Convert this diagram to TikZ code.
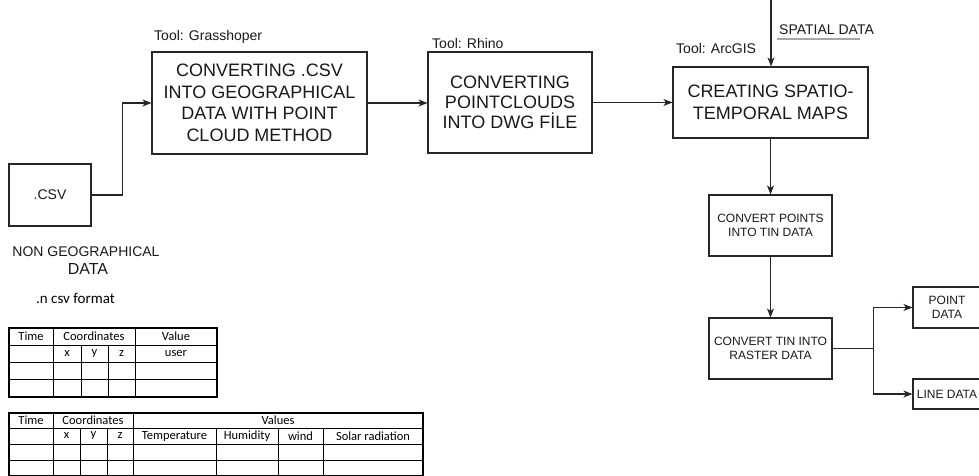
\documentclass[tikz,border=0pt]{standalone}
\usepackage{fontspec}
\setmainfont{Liberation Sans}
\newfontfamily\calfont{Carlito}
\usetikzlibrary{arrows.meta}
\begin{document}
\begin{tikzpicture}[x=1pt,y=-1pt,
  box/.style={draw=black!85,line width=1.1pt,inner sep=0pt,align=center,text=black!90},
  big/.style={box,font=\fontsize{18}{21.6}\selectfont},
  small/.style={box,font=\fontsize{12}{14}\selectfont},
  lbl/.style={inner sep=0pt,anchor=west,text=black!90,font=\fontsize{14}{16}\selectfont},
  arr/.style={draw=black!85,line width=1.1pt,-{Stealth[length=9pt,width=7pt,inset=2.5pt]}},
  tab/.style={draw=black,line width=0.9pt},
  tabout/.style={draw=black,line width=1.3pt},
  tt/.style={inner sep=0pt,font=\calfont\fontsize{12.5}{14}\selectfont}
]
\clip (0,0) rectangle (979,476);
\fill[white] (0,0) rectangle (979,476);

% boxes
\node[box,minimum width=82pt,minimum height=62pt,font=\fontsize{14}{16}\selectfont] (csv) at (50,195) {.CSV};
\node[big,minimum width=215pt,minimum height=102pt] (gh) at (259.5,103) {CONVERTING .CSV\\INTO GEOGRAPHICAL\\DATA WITH POINT\\CLOUD METHOD};
\node[big,minimum width=164pt,minimum height=101pt,font=\fontsize{18}{20}\selectfont] (rh) at (510,102.5) {CONVERTING\\POINTCLOUDS\\INTO DWG FİLE};
\node[big,minimum width=195pt,minimum height=71pt,font=\fontsize{18}{22}\selectfont] (arc) at (770.5,102.5) {CREATING SPATIO-\\TEMPORAL MAPS};
\node[small,minimum width=123pt,minimum height=61pt] (tin) at (770.5,225.5) {CONVERT POINTS\\INTO TIN DATA};
\node[small,minimum width=123pt,minimum height=61pt] (ras) at (770.5,348.5) {CONVERT TIN INTO\\RASTER DATA};
\node[small,minimum width=68pt,minimum height=41pt] (pt) at (947,307.5) {POINT\\DATA};
\node[small,minimum width=68pt,minimum height=30pt] (ln) at (947,394) {LINE DATA};

% labels
\node[lbl] (lgh) at (154,37) {Tool: Grasshoper};
\node[lbl] (lrh) at (432,43) {Tool: Rhino};
\node[lbl] (larc) at (676,48) {Tool: ArcGIS};
\node[lbl] (sp) at (779,30) {SPATIAL DATA};
\draw[gray!70,line width=1.2pt] (777,39) -- (860,39);
\node[inner sep=0pt,text=black!90,font=\fontsize{14}{16}\selectfont] (ng) at (86,252) {NON GEOGRAPHICAL};
\node[inner sep=0pt,text=black!90,font=\fontsize{16}{18}\selectfont] (ngd) at (88,269) {DATA};
\node[inner sep=0pt,anchor=west,font=\calfont\fontsize{15}{17}\selectfont] (fmt) at (36,298) {.n csv format};

% connectors
\coordinate (top) at (771,0);
\draw[arr] (csv.east) -- ++(31,0) |- (gh.west);
\draw[arr] (gh.east) -- (gh.east -| rh.west);
\draw[arr] (rh.east) -- (rh.east -| arc.west);
\draw[arr] (top) -- (top |- arc.north);
\draw[arr] (arc.south) -- (tin.north);
\draw[arr] (tin.south) -- (ras.north);
\draw[arr] (ras.east) -- ++(41,0) |- (pt.west);
\draw[arr] (ras.east) -- ++(41,0) |- (ln.west);

% table 1
\foreach \y in {345,362,379} \draw[tab] (9,\y) -- (217,\y);
\foreach \x in {53,135} \draw[tab] (\x,328) -- (\x,397);
\foreach \x in {81,108} \draw[tab] (\x,345) -- (\x,397);
\draw[tabout] (9,328) rectangle (217,397);
\node[tt] (t1a) at (31,336.5) {Time};
\node[tt] (t1b) at (94,336.5) {Coordinates};
\node[tt] (t1c) at (176,336.5) {Value};
\node[tt] (t1x) at (67,353.5) {x};
\node[tt] (t1y) at (94.5,353.5) {y};
\node[tt] (t1z) at (121.5,353.5) {z};
\node[tt] (t1u) at (176,353.5) {user};

% table 2
\foreach \y in {428,444,460} \draw[tab] (9,\y) -- (423,\y);
\foreach \x in {53,133} \draw[tab] (\x,413) -- (\x,476);
\foreach \x in {80,107,216,278,323} \draw[tab] (\x,428) -- (\x,476);
\draw[tabout] (9,413) rectangle (423,475.5);
\node[tt] (t2a) at (31,420.5) {Time};
\node[tt] (t2b) at (93,420.5) {Coordinates};
\node[tt] (t2c) at (278,420.5) {Values};
\node[tt] (t2x) at (66.5,436) {x};
\node[tt] (t2y) at (93.5,436) {y};
\node[tt] (t2z) at (120,436) {z};
\node[tt] (t2t) at (174.5,436) {Temperature};
\node[tt] (t2h) at (247,436) {Humidity};
\node[tt] (t2w) at (300.5,436) {wind};
\node[tt] (t2s) at (373,436) {Solar radiation};
\end{tikzpicture}
\end{document}
